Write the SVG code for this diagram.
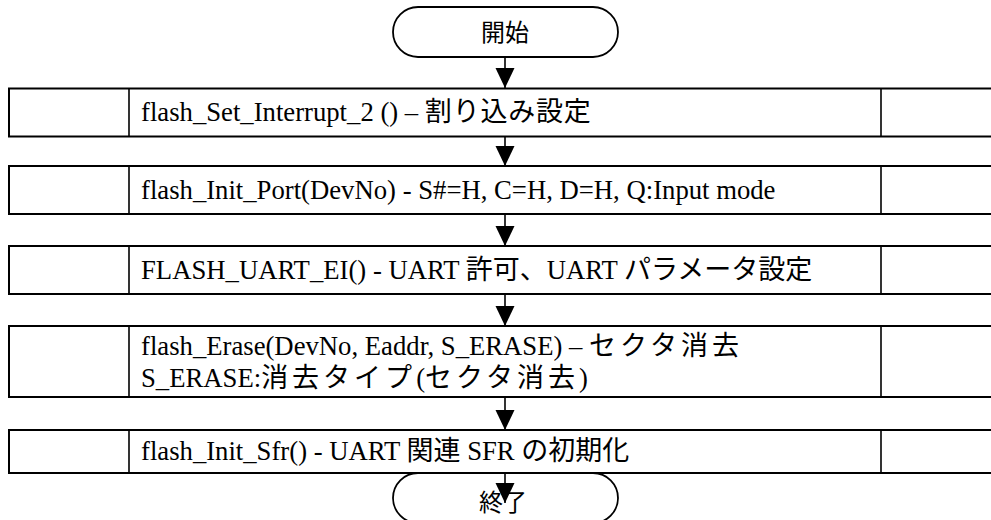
<svg xmlns="http://www.w3.org/2000/svg" width="991" height="520" viewBox="0 0 991 520">
<style>
.box{fill:#fff;stroke:#000;stroke-width:2}
.div{stroke:#000;stroke-width:1.6}
.term{fill:#fff;stroke:#000;stroke-width:1.8}
.t{font-family:"Liberation Serif","Noto Sans CJK JP",serif;font-size:26.7px;fill:#000}
.j{font-family:"Noto Sans CJK JP","Noto Sans",sans-serif;font-size:27px}
.jw{letter-spacing:4px}
.tt{font-family:"Noto Sans CJK JP","Noto Sans",sans-serif;font-size:24px;fill:#000;text-anchor:middle}
.c{stroke:#000;stroke-width:1.6;fill:none;marker-end:url(#ah)}
</style>
<defs>
<marker id="ah" markerUnits="userSpaceOnUse" markerWidth="20" markerHeight="20" viewBox="0 0 20 20" refX="20" refY="10" orient="auto">
<path d="M0,0.5 L20,10 L0,19.5 z" fill="#000"/>
</marker>
</defs>
<rect width="991" height="520" fill="#fff"/>
<g id="start">
<rect class="term" x="393" y="7" width="225" height="50" rx="25"/>
<text class="tt" x="505" y="41">開始</text>
</g>
<g id="n1">
<rect class="box" x="9" y="88.5" width="990" height="48"/>
<line class="div" x1="129" y1="88.5" x2="129" y2="136.5"/>
<line class="div" x1="881" y1="88.5" x2="881" y2="136.5"/>
<text class="t" x="141" y="121">flash_Set_Interrupt_2 () – <tspan class="j" letter-spacing="0.8">割り込み設定</tspan></text>
</g>
<g id="n2">
<rect class="box" x="9" y="166" width="990" height="48"/>
<line class="div" x1="129" y1="166" x2="129" y2="214"/>
<line class="div" x1="881" y1="166" x2="881" y2="214"/>
<text class="t" x="141" y="199">flash_Init_Port(DevNo) - S#=H, C=H, D=H, Q:Input mode</text>
</g>
<g id="n3">
<rect class="box" x="9" y="246" width="990" height="48"/>
<line class="div" x1="129" y1="246" x2="129" y2="294"/>
<line class="div" x1="881" y1="246" x2="881" y2="294"/>
<text class="t" x="141" y="279">FLASH_UART_EI() - UART <tspan class="j">許可、</tspan>UART <tspan class="j">パラメータ設定</tspan></text>
</g>
<g id="n4">
<rect class="box" x="9" y="326" width="990" height="71"/>
<line class="div" x1="129" y1="326" x2="129" y2="397"/>
<line class="div" x1="881" y1="326" x2="881" y2="397"/>
<text class="t" x="141" y="355">flash_Erase(DevNo, Eaddr, S_ERASE) – <tspan class="j jw">セクタ消去</tspan></text>
<text class="t" x="141" y="387">S_ERASE:<tspan class="j jw">消去タイプ</tspan>(<tspan class="j jw">セクタ消去</tspan>)</text>
</g>
<g id="n5">
<rect class="box" x="9" y="430" width="990" height="43"/>
<line class="div" x1="129" y1="430" x2="129" y2="473"/>
<line class="div" x1="881" y1="430" x2="881" y2="473"/>
<text class="t" x="141" y="460">flash_Init_Sfr() - UART <tspan class="j">関連</tspan> SFR <tspan class="j">の初期化</tspan></text>
</g>
<g id="end">
<rect class="term" x="393" y="473" width="225" height="50" rx="25"/>
<text class="tt" x="503" y="511">終了</text>
</g>
<g id="connectors">
<line class="c" x1="505" y1="57" x2="505" y2="88"/>
<line class="c" x1="505" y1="137" x2="505" y2="166"/>
<line class="c" x1="505" y1="214" x2="505" y2="246"/>
<line class="c" x1="505" y1="294" x2="505" y2="326"/>
<line class="c" x1="505" y1="397" x2="505" y2="430"/>
<line class="c" x1="505" y1="473" x2="505" y2="503"/>
</g>
</svg>
